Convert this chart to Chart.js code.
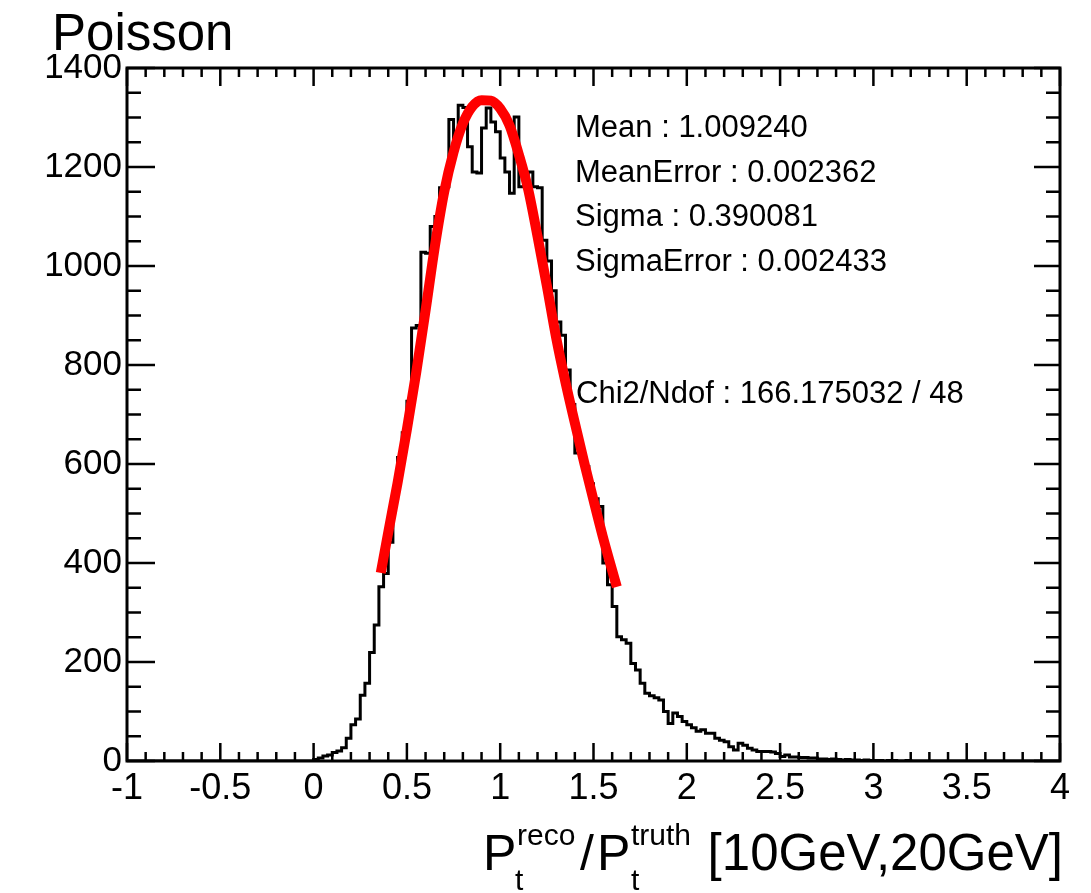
<!DOCTYPE html>
<html>
<head>
<meta charset="utf-8">
<script src="https://cdn.jsdelivr.net/npm/chart.js@4.4.1/dist/chart.umd.min.js"></script>
<style>
  html, body { margin: 0; padding: 0; background: #fff; }
  #wrap { position: relative; width: 1091px; height: 893px; }
</style>
</head>
<body>
<div id="wrap"><canvas id="histChart" width="1091" height="893"></canvas></div>
<script>
// HISTOGRAM (0.025 wide bins, first filled bin starts at x = 0)
const binWidth = 0.025;
const firstBin = 0;
const counts = [
  3, 6, 10, 12, 17, 20, 27, 46, 73, 85,               // 0.000 - 0.225
  133, 157, 219, 275, 352, 379, 442, 530, 613, 663,   // 0.250 - 0.475
  727, 875, 880, 1028, 1026, 1080, 1100, 1158, 1160, 1296,
  1255, 1325, 1320, 1241, 1190, 1188, 1279, 1319, 1291, 1271,
  1218, 1190, 1147, 1301, 1160, 1162, 1190, 1160, 1158, 1052,
  1010, 950, 887, 860, 790, 720, 622, 615, 595, 560,
  530, 514, 400, 356, 312, 251, 245, 238, 197, 184,
  157, 137, 132, 128, 123, 100, 76, 97, 90, 80,
  73, 67, 60, 63, 56, 56, 46, 42, 39, 29,
  22, 36, 32, 26, 22, 19, 19, 19, 18, 15,
  9, 12, 8, 8, 7, 7, 6, 6, 4, 4,
  3, 4, 3, 2, 3, 2, 2, 1, 2, 1,
  1, 1, 0, 1, 1, 0, 0, 1
];

// FIT CURVE
const fitX = [0.36, 0.40, 0.45, 0.50, 0.55, 0.60, 0.65, 0.70, 0.75, 0.80, 0.85, 0.90, 0.95,
  1.00, 1.05, 1.10, 1.15, 1.20, 1.25, 1.30, 1.35, 1.40, 1.45, 1.50, 1.55, 1.60, 1.625];
const fitY = [380, 462, 562, 670, 785, 910, 1040, 1150, 1230, 1288, 1322, 1335, 1334,
  1318, 1284, 1225, 1155, 1060, 960, 855, 765, 683, 603, 527, 453, 385, 352];

// AXES
const xTicks = [-1, -0.5, 0, 0.5, 1, 1.5, 2, 2.5, 3, 3.5, 4];
const yTicks = [0, 200, 400, 600, 800, 1000, 1200, 1400];
const xMinor = 0.1;
const yMinor = 50;

// TEXT
const title = "Poisson";
const statLines = [
  "Mean : 1.009240",
  "MeanError : 0.002362",
  "Sigma : 0.390081",
  "SigmaError : 0.002433"
];
const chiLine = "Chi2/Ndof : 166.175032 / 48";

const FONT = '"Liberation Sans", Arial, Helvetica, sans-serif';

// build step points: left edge of each bin
const histPoints = [{ x: xTicks[0], y: 0 }];
counts.forEach((c, i) => {
  histPoints.push({ x: firstBin + i * binWidth, y: c });
});
histPoints.push({ x: firstBin + counts.length * binWidth, y: 0 });
histPoints.push({ x: xTicks[xTicks.length - 1], y: 0 });

const fitPoints = fitX.map((x, i) => ({ x: x, y: fitY[i] }));

// frame, inner ticks and labels drawn ROOT style
const rootFrame = {
  id: "rootFrame",
  afterDatasetsDraw(chart) {
    const { ctx, chartArea: a, scales: { x, y } } = chart;
    ctx.save();
    ctx.strokeStyle = "#000";
    ctx.lineWidth = 3;
    ctx.strokeRect(a.left, a.top, a.right - a.left, a.bottom - a.top);

    ctx.lineWidth = 2.5;
    ctx.beginPath();
    const xMin = xTicks[0], xMax = xTicks[xTicks.length - 1];
    const nx = Math.round((xMax - xMin) / xMinor);
    for (let i = 0; i <= nx; i++) {
      const px = x.getPixelForValue(xMin + i * xMinor);
      const len = i % 5 === 0 ? 18 : 9;
      ctx.moveTo(px, a.bottom); ctx.lineTo(px, a.bottom - len);
      ctx.moveTo(px, a.top); ctx.lineTo(px, a.top + len);
    }
    const ny = Math.round(yTicks[yTicks.length - 1] / yMinor);
    for (let i = 0; i <= ny; i++) {
      const py = y.getPixelForValue(i * yMinor);
      const major = i % 4 === 0;
      ctx.moveTo(a.left, py); ctx.lineTo(a.left + (major ? 28 : 14), py);
      ctx.moveTo(a.right, py); ctx.lineTo(a.right - (major ? 26 : 14), py);
    }
    ctx.stroke();

    ctx.fillStyle = "#000";
    ctx.textBaseline = "alphabetic";
    ctx.textAlign = "left";

    ctx.font = "51px " + FONT;
    ctx.fillText(title, 52, 50);

    ctx.font = "31px " + FONT;
    statLines.forEach((t, i) => ctx.fillText(t, 575, 137 + i * 44.5));
    ctx.fillText(chiLine, 576, 403);

    // x axis title: P_t^reco / P_t^truth [10GeV,20GeV]
    ctx.font = "50px " + FONT;
    ctx.fillText("P", 483, 870);
    ctx.fillText("/", 580, 870);
    ctx.fillText("P", 597, 870);
    ctx.font = "30px " + FONT;
    ctx.fillText("reco", 517, 845);
    ctx.fillText("t", 515, 890);
    ctx.fillText("truth", 631, 845);
    ctx.fillText("t", 631, 890);
    ctx.font = "51px " + FONT;
    ctx.textAlign = "right";
    ctx.fillText("[10GeV,20GeV]", 1063, 870);
    ctx.restore();
  }
};

new Chart(document.getElementById("histChart"), {
  type: "line",
  data: {
    datasets: [
      {
        label: "fit",
        data: fitPoints,
        borderColor: "#ff0000",
        borderWidth: 10,
        cubicInterpolationMode: "monotone",
        pointRadius: 0,
        fill: false,
        order: 1
      },
      {
        label: "hist",
        data: histPoints,
        borderColor: "#000000",
        borderWidth: 3,
        stepped: true,
        pointRadius: 0,
        fill: false,
        order: 2
      }
    ]
  },
  options: {
    responsive: false,
    devicePixelRatio: 1,
    animation: false,
    events: [],
    layout: { padding: { top: 68, right: 31, left: 0, bottom: 0 } },
    plugins: { legend: { display: false }, tooltip: { enabled: false } },
    scales: {
      x: {
        type: "linear",
        min: xTicks[0],
        max: xTicks[xTicks.length - 1],
        afterBuildTicks: s => { s.ticks = xTicks.map(v => ({ value: v })); },
        afterFit: s => { s.height = 132; },
        grid: { display: false, drawTicks: false, tickLength: 0 },
        border: { display: false },
        ticks: {
          autoSkip: false, maxRotation: 0, minRotation: 0, padding: 6,
          color: "#000", font: { size: 36, family: FONT },
          callback: v => String(v)
        }
      },
      y: {
        type: "linear",
        min: yTicks[0],
        max: yTicks[yTicks.length - 1],
        afterBuildTicks: s => { s.ticks = yTicks.map(v => ({ value: v })); },
        afterFit: s => { s.width = 127; },
        grid: { display: false, drawTicks: false, tickLength: 0 },
        border: { display: false },
        ticks: {
          autoSkip: false, padding: 5,
          color: "#000", font: { size: 35, family: FONT },
          callback: v => String(v)
        }
      }
    }
  },
  plugins: [rootFrame]
});
</script>
</body>
</html>
